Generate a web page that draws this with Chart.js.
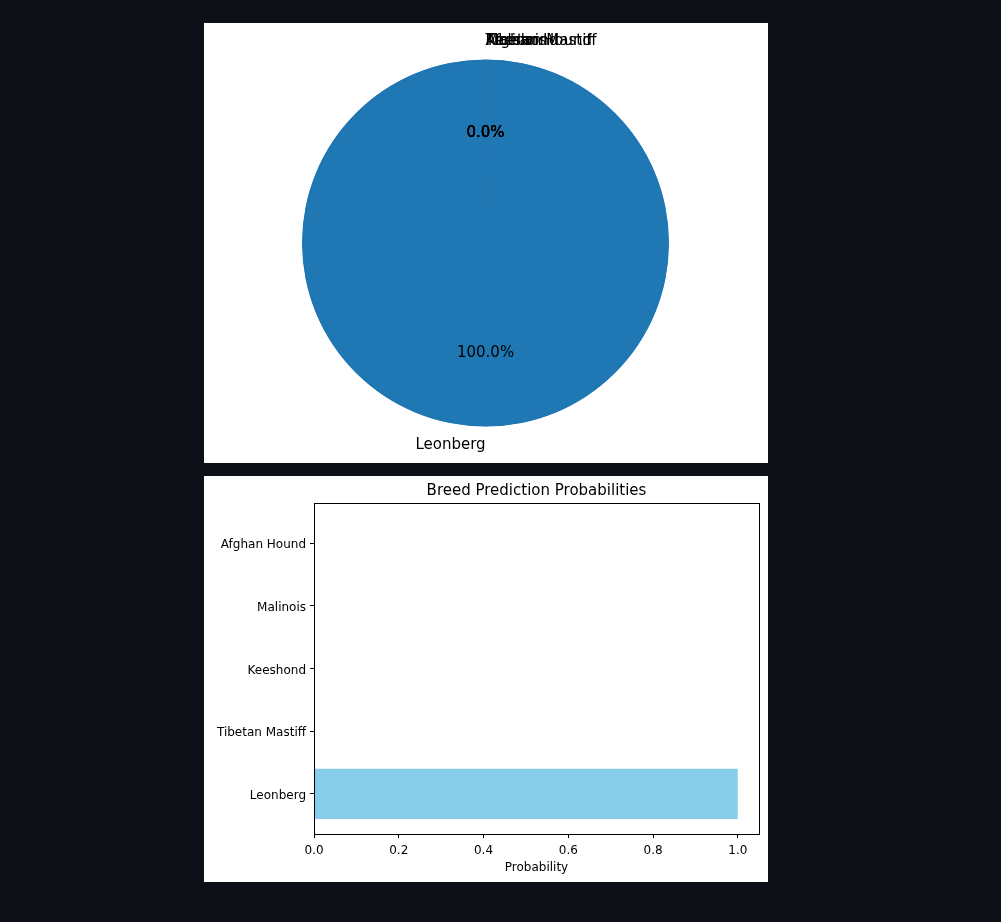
<!DOCTYPE html>
<html>
<head>
<meta charset="utf-8">
<script src="https://cdn.jsdelivr.net/npm/chart.js@4"></script>
<style>
  html, body { margin: 0; padding: 0; background: #0d1117; width: 1001px; height: 922px; overflow: hidden; }
  canvas { position: absolute; background: #ffffff; }
  #pie { left: 204px; top: 23px; }
  #bar { left: 204px; top: 476px; }
</style>
</head>
<body>
<canvas id="pie" width="564" height="440"></canvas>
<canvas id="bar" width="564" height="406"></canvas>
<script>
// Data (bottom-to-top order, as plotted)
const breeds = ['Leonberg', 'Tibetan Mastiff', 'Keeshond', 'Malinois', 'Afghan Hound'];
const probabilities = [0.9999, 0.00004, 0.00003, 0.00002, 0.00001];
const pieColors = ['#1f77b4', '#ff7f0e', '#2ca02c', '#d62728', '#9467bd'];
const xTicks = [0, 0.2, 0.4, 0.6, 0.8, 1.0];
const chartTitle = 'Breed Prediction Probabilities';
const xTitle = 'Probability';

Chart.defaults.font.family = "'DejaVu Sans', 'Liberation Sans', sans-serif";
Chart.defaults.color = '#000';
Chart.defaults.animation = false;

// Pie labels plugin (matplotlib-like labels and autopct)
const pieLabels = {
  id: 'pieLabels',
  afterDatasetsDraw(chart) {
    const ctx = chart.ctx;
    const meta = chart.getDatasetMeta(0);
    const data = chart.data.datasets[0].data;
    const total = data.reduce((a, b) => a + b, 0);
    ctx.save();
    ctx.fillStyle = '#000';
    ctx.font = "15px 'DejaVu Sans', sans-serif";
    ctx.textBaseline = 'middle';
    meta.data.forEach((arc, i) => {
      const p = arc.getProps(['x', 'y', 'startAngle', 'endAngle', 'outerRadius'], true);
      const mid = (p.startAngle + p.endAngle) / 2;
      const c = Math.cos(mid), s = Math.sin(mid);
      ctx.textAlign = 'center';
      ctx.fillText((data[i] / total * 100).toFixed(1) + '%', p.x + c * 0.6 * p.outerRadius, p.y + s * 0.6 * p.outerRadius);
    });
    meta.data.forEach((arc, i) => {
      const p = arc.getProps(['x', 'y', 'startAngle', 'endAngle', 'outerRadius'], true);
      const mid = (p.startAngle + p.endAngle) / 2;
      const c = Math.cos(mid), s = Math.sin(mid);
      ctx.textAlign = c < 0 ? 'left' : 'right';
      ctx.fillText(chart.data.labels[i], p.x + c * 1.1 * p.outerRadius, p.y + s * 1.1 * p.outerRadius);
    });
    ctx.restore();
  }
};

new Chart(document.getElementById('pie'), {
  type: 'pie',
  data: {
    labels: breeds,
    datasets: [{
      data: probabilities,
      backgroundColor: pieColors,
      borderColor: pieColors,
      borderWidth: [1, 0, 0, 0, 0],
      borderAlign: 'inner',
      hoverOffset: 0
    }]
  },
  options: {
    responsive: false,
    layout: { padding: { top: 36.5, bottom: 36.5, left: 98, right: 99 } },
    plugins: { legend: { display: false }, tooltip: { enabled: false } }
  },
  plugins: [pieLabels]
});

// Frame plugin for the axes box
const frame = {
  id: 'frame',
  afterDraw(chart) {
    const a = chart.chartArea;
    const ctx = chart.ctx;
    ctx.save();
    ctx.strokeStyle = '#000';
    ctx.lineWidth = 1;
    ctx.strokeRect(Math.round(a.left) + 0.5, Math.round(a.top) + 0.5, Math.round(a.right - a.left), Math.round(a.bottom - a.top));
    ctx.restore();
  }
};

new Chart(document.getElementById('bar'), {
  type: 'bar',
  data: {
    datasets: [{
      data: probabilities.map((p, i) => ({ x: p, y: i })),
      backgroundColor: '#87ceeb',
      borderWidth: 0,
      categoryPercentage: 1.0,
      barPercentage: 0.8
    }]
  },
  options: {
    responsive: false,
    indexAxis: 'y',
    layout: { padding: { top: 0, right: 9, bottom: 0, left: 0 } },
    plugins: {
      legend: { display: false },
      tooltip: { enabled: false },
      title: {
        display: true,
        text: chartTitle,
        fullSize: false,
        color: '#000',
        font: { size: 15, weight: 'normal' },
        padding: { top: 6, bottom: 3 }
      }
    },
    scales: {
      x: {
        type: 'linear',
        min: 0,
        max: 1.05,
        offset: false,
        afterBuildTicks: s => { s.ticks = xTicks.map(v => ({ value: v })); },
        afterFit: s => { s.height = 48; },
        grid: { drawOnChartArea: false, drawTicks: true, tickLength: 4, tickColor: '#000', offset: false },
        border: { display: true, color: '#000' },
        ticks: { color: '#000', font: { size: 12 }, padding: 6, maxRotation: 0, callback: v => Number(v).toFixed(1) },
        title: { display: true, text: xTitle, color: '#000', font: { size: 12 }, padding: { top: 0, bottom: 6.8 } }
      },
      y: {
        type: 'linear',
        min: -0.64,
        max: 4.64,
        offset: false,
        afterBuildTicks: s => { s.ticks = breeds.map((_, i) => ({ value: i })); },
        afterFit: s => { s.width = 110; },
        grid: { drawOnChartArea: false, drawTicks: true, tickLength: 4, tickColor: '#000', offset: false },
        border: { display: true, color: '#000' },
        ticks: { color: '#000', font: { size: 12 }, padding: 4, labelOffset: 2, callback: v => breeds[v] }
      }
    }
  },
  plugins: [frame]
});
</script>
</body>
</html>
